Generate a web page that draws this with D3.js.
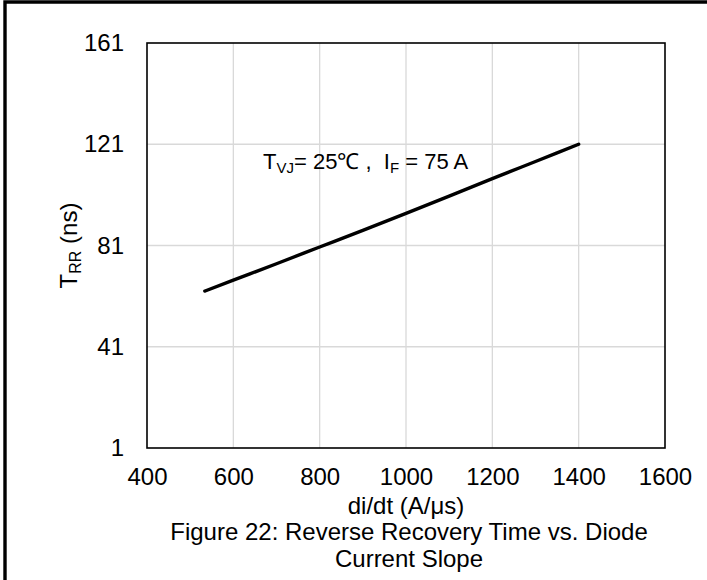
<!DOCTYPE html>
<html><head><meta charset="utf-8">
<script src="https://cdn.jsdelivr.net/npm/d3@7"></script>
<style>
html,body{margin:0;padding:0;background:#fff;}
svg{display:block;font-family:"Liberation Sans",Arial,sans-serif;}
text{white-space:pre;}
</style></head>
<body><svg id="c" width="707" height="580"></svg>
<script>
const xTicks = [400, 600, 800, 1000, 1200, 1400, 1600];
const yTicks = [1, 41, 81, 121, 161];
const diDt = [534, 600, 700, 800, 900, 1000, 1100, 1200, 1300, 1400];
const trr  = [63, 67.3, 73.8, 80.4, 87, 93.7, 100.5, 107.4, 114.2, 121];

const svg = d3.select("#c");
const m = {l:147, r:665, t:43, b:448};
const x = d3.scaleLinear().domain([400,1600]).range([m.l, m.r]);
const y = d3.scaleLinear().domain([1,161]).range([m.b, m.t]);
const FS = 24;
const FF = "Liberation Sans, Arial, sans-serif";

// outer frame (left + top)
svg.append("path").attr("d","M5,580 V2 H707").attr("fill","none").attr("stroke","#000").attr("stroke-width",3.4);

// grid
svg.append("g").selectAll("line").data(xTicks.slice(1,-1)).join("line")
  .attr("x1",d=>x(d)).attr("x2",d=>x(d)).attr("y1",m.t).attr("y2",m.b)
  .attr("stroke","#d9d9d9").attr("stroke-width",1.3);
svg.append("g").selectAll("line").data(yTicks.slice(1,-1)).join("line")
  .attr("y1",d=>y(d)).attr("y2",d=>y(d)).attr("x1",m.l).attr("x2",m.r)
  .attr("stroke","#d9d9d9").attr("stroke-width",1.3);

// axes with labels
const xa = svg.append("g").attr("transform",`translate(0,${m.b})`)
  .call(d3.axisBottom(x).tickValues(xTicks).tickFormat(d3.format("d")).tickSize(0).tickPadding(20));
xa.select(".domain").remove();
xa.selectAll("text").attr("font-size",FS).attr("fill","#000").attr("font-family",FF);
const ya = svg.append("g").attr("transform",`translate(${m.l},0)`)
  .call(d3.axisLeft(y).tickValues(yTicks).tickFormat(d3.format("d")).tickSize(0).tickPadding(23));
ya.select(".domain").remove();
ya.selectAll("text").attr("font-size",FS).attr("fill","#000").attr("font-family",FF);

// plot border
svg.append("rect").attr("x",m.l).attr("y",m.t).attr("width",m.r-m.l).attr("height",m.b-m.t)
  .attr("fill","none").attr("stroke","#000").attr("stroke-width",1.6);

// curve
svg.append("path").datum(diDt.map((d,i)=>[d,trr[i]]))
  .attr("d", d3.line().x(d=>x(d[0])).y(d=>y(d[1])).curve(d3.curveMonotoneX))
  .attr("fill","none").attr("stroke","#000").attr("stroke-width",3.4).attr("stroke-linecap","round");

// annotation
const ann = svg.append("text").attr("x",263).attr("y",169).attr("font-size",22).attr("fill","#000");
ann.append("tspan").text("T");
ann.append("tspan").attr("font-size",15).attr("dy",4).text("VJ");
ann.append("tspan").attr("dy",-4).text("= 25℃ ,  I");
ann.append("tspan").attr("font-size",15).attr("dy",4).text("F");
ann.append("tspan").attr("dy",-4).text(" = 75 A");

// y title
const yt = svg.append("text").attr("transform",`translate(77,${(m.t+m.b)/2}) rotate(-90)`)
  .attr("text-anchor","middle").attr("font-size",FS).attr("fill","#000");
yt.append("tspan").text("T");
yt.append("tspan").attr("font-size",16).attr("dy",4).text("RR");
yt.append("tspan").attr("dy",-4).text(" (ns)");

// x title
svg.append("text").attr("x",(m.l+m.r)/2).attr("y",514).attr("text-anchor","middle")
  .attr("font-size",FS).attr("fill","#000").text("di/dt (A/μs)");

// caption
svg.append("text").attr("x",409).attr("y",540).attr("text-anchor","middle")
  .attr("font-size",FS).attr("fill","#000").text("Figure 22: Reverse Recovery Time vs. Diode");
svg.append("text").attr("x",409).attr("y",567).attr("text-anchor","middle")
  .attr("font-size",FS).attr("fill","#000").text("Current Slope");
</script></body></html>
